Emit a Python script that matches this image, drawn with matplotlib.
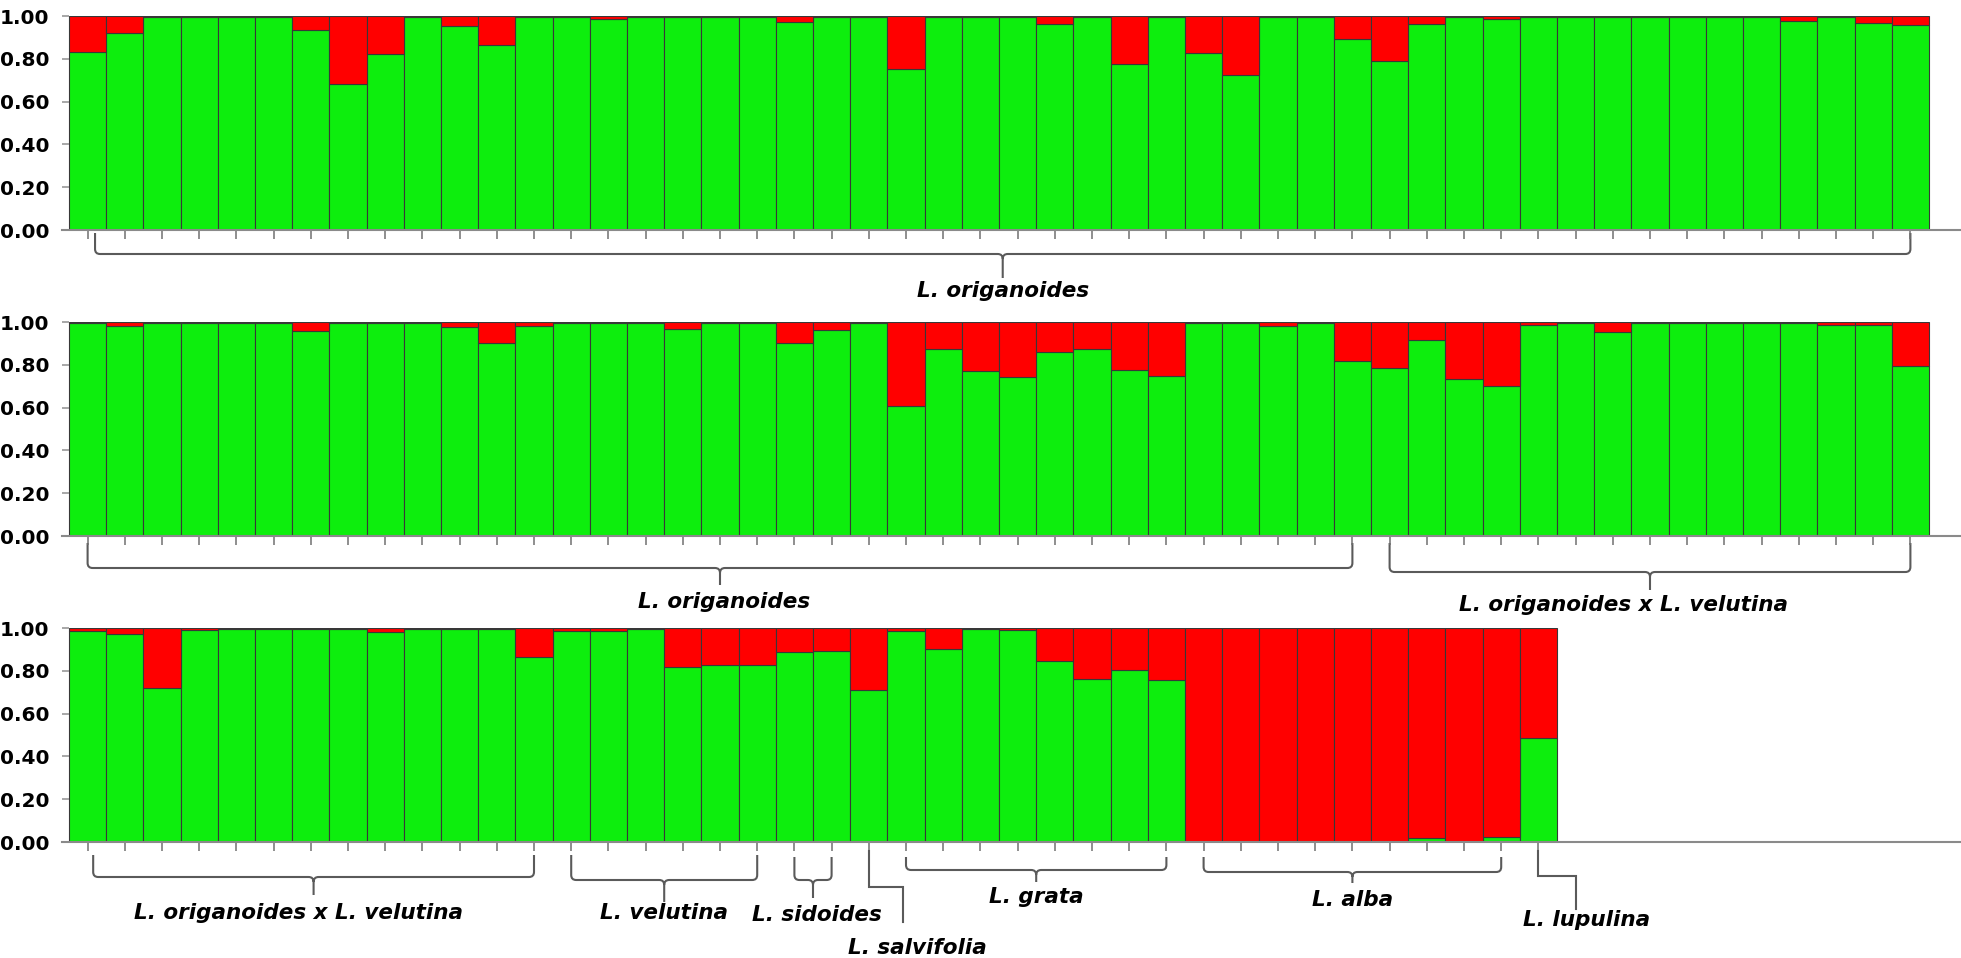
import matplotlib
matplotlib.use('Agg')
import matplotlib.pyplot as plt
from matplotlib.path import Path
from matplotlib.patches import PathPatch
import numpy as np

# membership coefficient of the green cluster per individual (red = 1 - green)
row1_green = [0.83, 0.92, 0.995, 0.995, 0.995, 0.995, 0.936, 0.68, 0.824, 0.995,
              0.952, 0.863, 0.995, 0.995, 0.986, 0.995, 0.995, 0.995, 0.995, 0.974,
              0.995, 0.995, 0.751, 0.995, 0.995, 0.995, 0.964, 0.995, 0.778, 0.995,
              0.829, 0.722, 0.995, 0.995, 0.891, 0.79, 0.964, 0.995, 0.984, 0.995,
              0.995, 0.995, 0.995, 0.995, 0.995, 0.995, 0.975, 0.995, 0.969, 0.96]
row2_green = [0.995, 0.98, 0.995, 0.995, 0.995, 0.995, 0.956, 0.995, 0.995, 0.995,
              0.977, 0.902, 0.983, 0.995, 0.995, 0.995, 0.969, 0.995, 0.995, 0.902,
              0.964, 0.995, 0.608, 0.875, 0.772, 0.743, 0.86, 0.874, 0.777, 0.749,
              0.995, 0.995, 0.98, 0.995, 0.819, 0.785, 0.914, 0.735, 0.702, 0.988,
              0.995, 0.952, 0.995, 0.995, 0.995, 0.995, 0.995, 0.988, 0.985, 0.793]
row3_green = [0.984, 0.972, 0.719, 0.989, 0.995, 0.995, 0.995, 0.995, 0.98, 0.995,
              0.995, 0.995, 0.864, 0.988, 0.988, 0.995, 0.816, 0.828, 0.828, 0.886,
              0.894, 0.708, 0.984, 0.903, 0.995, 0.99, 0.847, 0.762, 0.805, 0.758,
              0.0, 0.0, 0.0, 0.0, 0.0, 0.0, 0.019, 0.0, 0.023, 0.4875]

# species groups per row: name, first and last individual (1-based)
row1_names = ['L. origanoides']
row1_first = [1]
row1_last = [50]
row2_names = ['L. origanoides', 'L. origanoides x L. velutina']
row2_first = [1, 36]
row2_last = [35, 50]
row3_names = ['L. origanoides x L. velutina', 'L. velutina', 'L. sidoides', 'L. salvifolia',
              'L. grata', 'L. alba', 'L. lupulina']
row3_first = [1, 14, 20, 22, 23, 31, 40]
row3_last = [13, 19, 21, 22, 30, 39, 40]

yticks = [0.0, 0.2, 0.4, 0.6, 0.8, 1.0]
ytick_labels = ['0.00', '0.20', '0.40', '0.60', '0.80', '1.00']

# layout of the bracket drawings (pixel offsets below the axis line)
# kind, inset, top, mid, tip, label, label dx (bars), step dx (bars)
row1_layout = [('brace', 0.2, 3, 24, 48, 61, 0.0, 0)]
row2_layout = [('brace', 0, 7, 32, 49, 66, 0.1, 0),
               ('brace', 0, 7, 36, 54, 69, -0.7, 0)]
row3_layout = [('brace', 0.15, 13, 35, 53, 71, -0.4, 0),
               ('brace', 0, 13, 38, 60, 71, 0.0, 0),
               ('brace', 0, 15, 38, 56, 73, 0.1, 0),
               ('step', 0, 9, 45, 80, 106, 1.3, 0.92),
               ('brace', 0, 15, 28, 40, 55, 0.0, 0),
               ('brace', 0, 15, 30, 41, 58, 0.0, 0),
               ('step', 0, 9, 34, 67, 78, 1.3, 1.0)]

GREEN = '#0DEE0D'
RED = '#FF0000'
EDGE = '#383838'
LINE = '#5a5a5a'

W, H = 1961, 958
AX_LEFT, AX_RIGHT = 62, 1960
BAR_PX = 37.2
AX_H = 214
ROW_TOPS = [16, 322, 628]

x0 = -0.5 - (69 - AX_LEFT) / BAR_PX
x1 = x0 + (AX_RIGHT - AX_LEFT) / BAR_PX


def yf(px):
    """pixels below the axis line -> axes fraction"""
    return -px / AX_H


def draw_brace(ax, xa, xb, xm, top, mid, tip):
    r = 5 / BAR_PX
    rv = 5
    verts = [(xa, yf(top)), (xa, yf(mid - rv)), (xa, yf(mid)), (xa + r, yf(mid)),
             (xm - r, yf(mid)), (xm, yf(mid)), (xm, yf(mid + rv)), (xm, yf(tip)),
             (xb, yf(top)), (xb, yf(mid - rv)), (xb, yf(mid)), (xb - r, yf(mid)),
             (xm + r, yf(mid)), (xm, yf(mid)), (xm, yf(mid + rv))]
    codes = [Path.MOVETO, Path.LINETO, Path.CURVE3, Path.CURVE3,
             Path.LINETO, Path.CURVE3, Path.CURVE3, Path.LINETO,
             Path.MOVETO, Path.LINETO, Path.CURVE3, Path.CURVE3,
             Path.LINETO, Path.CURVE3, Path.CURVE3]
    ax.add_patch(PathPatch(Path(verts, codes), facecolor='none', edgecolor=LINE, lw=1.5,
                           transform=ax.get_xaxis_transform(), clip_on=False))


def draw_step(ax, x, dx, top, mid, tip):
    ax.plot([x, x, x + dx, x + dx], [yf(top), yf(mid), yf(mid), yf(tip)], color=LINE, lw=1.5,
            transform=ax.get_xaxis_transform(), clip_on=False, solid_joinstyle='miter')


def structure_row(top_px, green, names, first, last, layout):
    ax = fig.add_axes([AX_LEFT / W, 1 - (top_px + AX_H) / H, (AX_RIGHT - AX_LEFT) / W, AX_H / H])
    q = np.array(green)
    idx = np.arange(len(q))
    ax.bar(idx, q, width=1.0, color=GREEN, edgecolor=EDGE, linewidth=0.8)
    ax.bar(idx, 1 - q, bottom=q, width=1.0, color=RED, edgecolor=EDGE, linewidth=0.8)

    ax.set_xlim(x0, x1)
    ax.set_ylim(0, 1)
    ax.set_xticks(idx)
    ax.set_xticklabels([])
    ax.tick_params(axis='x', direction='out', length=6.5, width=1.1, color='#707070')
    ax.set_yticks(yticks)
    ax.set_yticklabels(ytick_labels, fontsize=14.5, fontweight='bold')
    ax.tick_params(axis='y', direction='in', length=5, width=1.1, color='#909090', pad=9)
    for side in ['left', 'top', 'right']:
        ax.spines[side].set_visible(False)
    ax.spines['bottom'].set_color('#8a8a8a')
    ax.spines['bottom'].set_linewidth(1.5)

    for name, a, b, lay in zip(names, first, last, layout):
        kind, inset, top, mid, tip, lab, ldx, sdx = lay
        xa, xb = a - 1 + inset, b - 1
        if kind == 'brace':
            xm = (xa + xb) / 2
            draw_brace(ax, xa, xb, xm, top, mid, tip)
            lx = xm + ldx
        else:
            draw_step(ax, xa, sdx, top, mid, tip)
            lx = xa + ldx
        ax.text(lx, yf(lab), name, transform=ax.get_xaxis_transform(), ha='center', va='center',
                fontsize=15.5, fontweight='bold', fontstyle='italic', clip_on=False)
    return ax


fig = plt.figure(figsize=(W / 100, H / 100), dpi=100)
structure_row(ROW_TOPS[0], row1_green, row1_names, row1_first, row1_last, row1_layout)
structure_row(ROW_TOPS[1], row2_green, row2_names, row2_first, row2_last, row2_layout)
structure_row(ROW_TOPS[2], row3_green, row3_names, row3_first, row3_last, row3_layout)

fig.savefig('out.png', dpi=100, facecolor='white')
